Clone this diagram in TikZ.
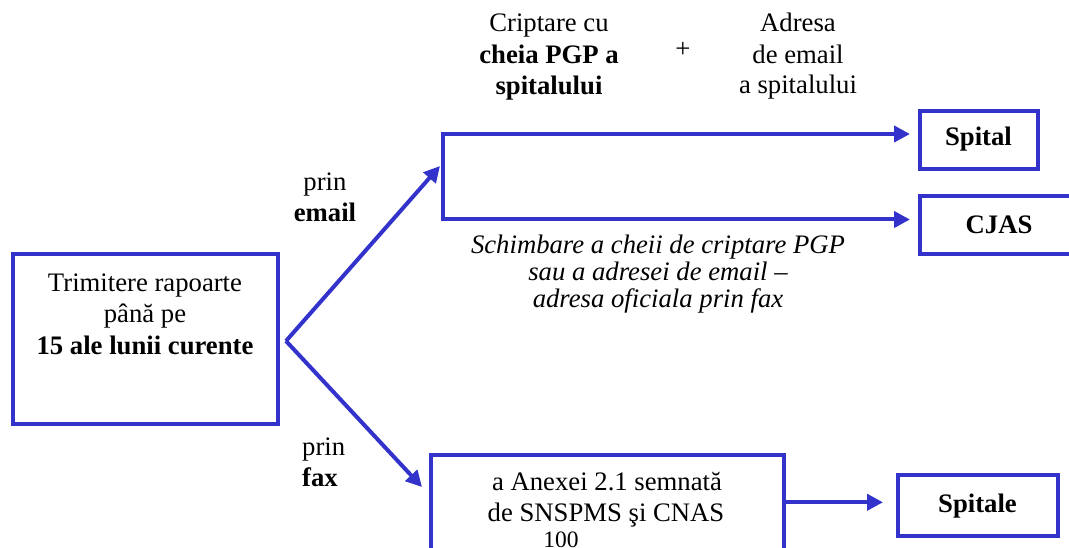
\documentclass[tikz,border=0pt]{standalone}
\usepackage{fontspec}
\setmainfont{Liberation Serif}
\usetikzlibrary{arrows.meta}
\definecolor{myblue}{RGB}{51,51,204}
\begin{document}
\begin{tikzpicture}[x=1pt,y=-1pt,
  box/.style={draw=myblue, line width=4pt, inner sep=0pt, outer sep=0pt},
  txt/.style={inner sep=0pt, anchor=base, font=\fontsize{26.7}{31}\selectfont},
  btxt/.style={txt, font=\fontsize{26.7}{31}\selectfont\bfseries},
  itxt/.style={txt, font=\fontsize{26.7}{31}\selectfont\itshape},
  arr/.style={draw=myblue, line width=4pt, -{Triangle[length=16pt,width=16pt]}},
  ln/.style={draw=myblue, line width=4pt, line cap=rect}]
\useasboundingbox (0,0) rectangle (1069,548);
\clip (0,0) rectangle (1069,548);

% top texts
\node[txt]  (c1) at (549,32) {Criptare cu};
\node[btxt] (c2) at (549,63.5) {cheia PGP a};
\node[btxt] (c3) at (549,95) {spitalului};
\node[inner sep=0pt, font=\fontsize{26.7}{31}\selectfont] (plus) at (683,50) {+};
\node[txt] (a1) at (798,32) {Adresa};
\node[txt] (a2) at (798,63.5) {de email};
\node[txt] (a3) at (798,94) {a spitalului};

% source box
\node[box, minimum width=265pt, minimum height=170pt] (src) at (145,339) {};
\node[txt]  (s1) at (145,291.5) {Trimitere rapoarte};
\node[txt]  (s2) at (145,323) {până pe};
\node[btxt] (s3) at (145,354.5) {15 ale lunii curente};

% right boxes
\node[box, minimum width=118pt, minimum height=58.5pt, text height=18pt, text depth=7pt,
      font=\fontsize{26.7}{31}\selectfont\bfseries] (spital) at (978.5,140) {Spital};
\node[box, minimum width=159pt, minimum height=58pt, text height=18pt, text depth=1pt,
      font=\fontsize{26.7}{31}\selectfont\bfseries] (cjas) at (999,225.5) {CJAS};
\node[box, minimum width=160pt, minimum height=61.5pt, text height=18pt, text depth=4.4pt,
      font=\fontsize{26.7}{31}\selectfont\bfseries] (spitale) at (977.5,505.7) {Spitale};

% lower box
\node[box, minimum width=353pt, minimum height=100pt] (anexa) at (607,504.5) {};
\node[txt] (x1) at (607,490) {a Anexei 2.1 semnată};
\node[txt] (x2) at (606,521.7) {de SNSPMS şi CNAS};
\node[inner sep=0pt, anchor=base, font=\fontsize{23.5}{28}\selectfont] (num) at (561,547) {100};

% labels
\node[txt]  (pe1) at (325,190.7) {prin};
\node[btxt] (pe2) at (325,221.7) {email};
\node[txt, anchor=base west]  (pf1) at (302,455) {prin};
\node[btxt, anchor=base west] (pf2) at (302,486.7) {fax};

\node[itxt] (i1) at (658,254) {Schimbare a cheii de criptare PGP};
\node[itxt] (i2) at (658,281) {sau a adresei de email –};
\node[itxt] (i3) at (658,308) {adresa oficiala prin fax};

% connectors
\coordinate (j) at (286,341);
\coordinate (etip) at (440,166);
\coordinate (ftip) at (422,487);
\coordinate (vt) at (442.5,134);
\coordinate (vb) at (442.5,219.5);

\draw[arr] (j) -- (etip);
\draw[arr] (j) -- (ftip);
\draw[ln] (vt) -- (vb);
\draw[arr, shorten >=9.5pt] (vt) -- (vt -| spital.west);
\draw[arr, shorten >=9.5pt] (vb) -- (vb -| cjas.west);
\draw[arr, shorten >=14.5pt] ([yshift=2.2pt]anexa.east) -- ([yshift=2.2pt]anexa.east -| spitale.west);
\end{tikzpicture}
\end{document}
